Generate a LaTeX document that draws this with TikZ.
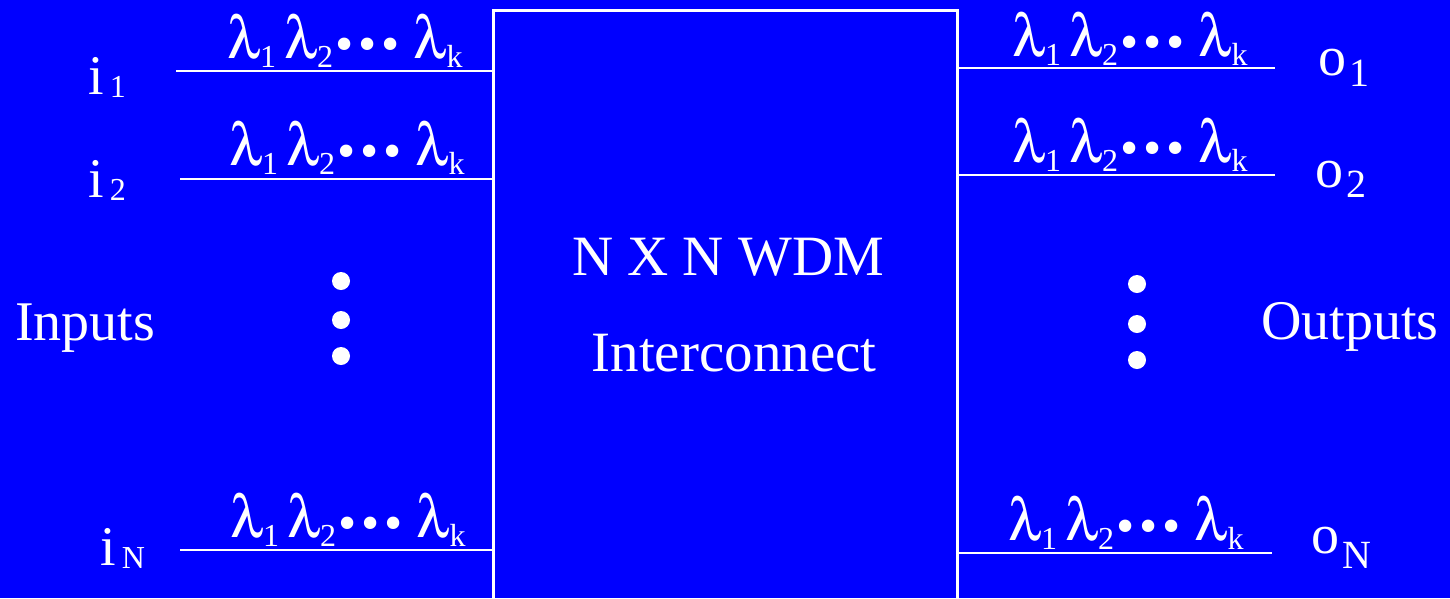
\documentclass[tikz,border=0pt]{standalone}
\usepackage{fontspec}
\setmainfont{Liberation Serif}
\usepackage[Symbol]{upgreek}
\usepackage{tikz}
\definecolor{slideblue}{RGB}{0,0,255}
\newcommand{\wsub}[1]{\raisebox{-9pt}{\fontsize{32}{32}\selectfont #1}}
\newcommand{\wdots}{\raisebox{-3pt}{\fontsize{52}{52}\selectfont\hspace{2pt}•\hspace{5pt}•\hspace{5pt}•}}
\newcommand{\wavelengths}{$\uplambda$\wsub{1}\hspace{8pt}$\uplambda$\wsub{2}\wdots\hspace{14pt}$\uplambda$\wsub{k}}
\newcommand{\isub}[1]{\hspace{6pt}\raisebox{-3pt}{\fontsize{32}{32}\selectfont #1}}
\newcommand{\osub}[2][11pt]{\hspace{3pt}\raisebox{-#1}{\fontsize{40}{40}\selectfont #2}}

\begin{document}
\begin{tikzpicture}[x=1pt,y=-1pt]
\tikzset{port/.style = {text=white,inner sep=0pt,anchor=base west,font=\fontsize{56}{56}\selectfont}}
\tikzset{wave/.style = {text=white,inner sep=0pt,anchor=base,font=\fontsize{60}{60}\selectfont}}
\tikzset{fibre/.style = {draw=white,line width=2pt}}
\tikzset{dot/.style = {shape=circle,fill=white,minimum size=18pt,inner sep=0pt}}
\tikzset{switch/.style = {shape=rectangle,draw=white,line width=3pt,minimum width=464pt,minimum height=590pt,text=white,align=center,font=\fontsize{57}{96}\selectfont}}
% background
\useasboundingbox (0,0) rectangle (1450,598);
\fill[slideblue] (0,0) rectangle (1450,598);
\clip (0,0) rectangle (1450,598);
% interconnect
\node[switch] (xc) at (725,305) {\hspace*{6pt}N X N WDM\\\hspace*{18pt}Interconnect};
% ports
\node[port] (i1) at (88,94)   {i\isub{1}};
\node[port] (i2) at (88,197)  {i\isub{2}};
\node[port] (iN) at (100,565) {i\isub{N}};
\node[port] (o1) at (1318,75)  {o\osub{1}};
\node[port] (o2) at (1315,187) {o\osub[10pt]{2}};
\node[port] (oN) at (1311,553) {o\osub[15pt]{N}};
\node[port] (ins)  at (15,340)   {Inputs};
\node[port] (outs) at (1261,339) {Outputs};
% fibre ends
\coordinate (fi1) at (176,71);
\coordinate (fi2) at (180,179);
\coordinate (fiN) at (180,550);
\coordinate (fo1) at (1275,68);
\coordinate (fo2) at (1275,175);
\coordinate (foN) at (1272,553);
% wavelengths
\node[wave] (wi1) at (345,58)   {\wavelengths};
\node[wave] (wi2) at (347,165)  {\wavelengths};
\node[wave] (wiN) at (348,537)  {\wavelengths};
\node[wave] (wo1) at (1130,56)  {\wavelengths};
\node[wave] (wo2) at (1130,162) {\wavelengths};
\node[wave] (woN) at (1126,540) {\wavelengths};
% dots
\node[dot] (li1) at (341,281) {};
\node[dot] (li2) at (341,320) {};
\node[dot] (li3) at (341,356) {};
\node[dot] (lo1) at (1137,284) {};
\node[dot] (lo2) at (1137,324) {};
\node[dot] (lo3) at (1137,360) {};
%fibres
\draw[fibre] (fi1) to (fi1 -| xc.west);
\draw[fibre] (fi2) to (fi2 -| xc.west);
\draw[fibre] (fiN) to (fiN -| xc.west);
\draw[fibre] (fo1 -| xc.east) to (fo1);
\draw[fibre] (fo2 -| xc.east) to (fo2);
\draw[fibre] (foN -| xc.east) to (foN);
\end{tikzpicture}
\end{document}
